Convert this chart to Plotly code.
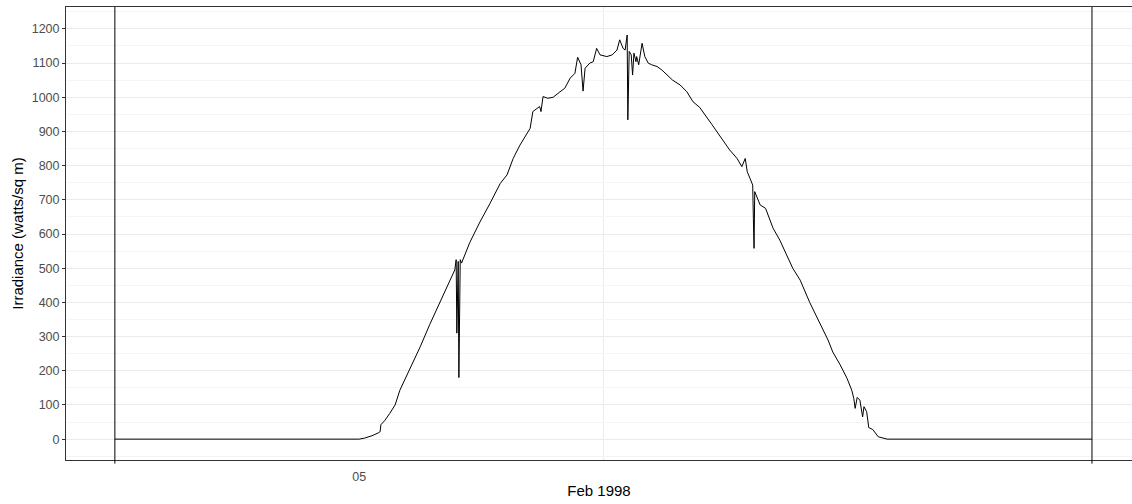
import plotly.graph_objects as go

# Solar irradiance over one day (timestamps, W/m^2)
times = [
    "1998-02-04 18:00", "1998-02-05 00:00", "1998-02-05 00:08", "1998-02-05 00:19",
    "1998-02-05 00:28", "1998-02-05 00:31", "1998-02-05 00:32", "1998-02-05 00:38",
    "1998-02-05 00:45", "1998-02-05 00:53", "1998-02-05 01:00", "1998-02-05 01:15",
    "1998-02-05 01:30", "1998-02-05 01:44", "1998-02-05 01:59", "1998-02-05 02:14",
    "1998-02-05 02:21", "1998-02-05 02:23", "1998-02-05 02:24", "1998-02-05 02:26",
    "1998-02-05 02:27", "1998-02-05 02:29", "1998-02-05 02:31", "1998-02-05 02:43",
    "1998-02-05 02:58", "1998-02-05 03:13", "1998-02-05 03:28", "1998-02-05 03:38",
    "1998-02-05 03:47", "1998-02-05 03:57", "1998-02-05 04:07", "1998-02-05 04:12",
    "1998-02-05 04:16", "1998-02-05 04:26", "1998-02-05 04:28", "1998-02-05 04:31",
    "1998-02-05 04:38", "1998-02-05 04:46", "1998-02-05 04:56", "1998-02-05 05:03",
    "1998-02-05 05:11", "1998-02-05 05:18", "1998-02-05 05:22", "1998-02-05 05:27",
    "1998-02-05 05:30", "1998-02-05 05:33", "1998-02-05 05:40", "1998-02-05 05:45",
    "1998-02-05 05:50", "1998-02-05 05:55", "1998-02-05 06:05", "1998-02-05 06:13",
    "1998-02-05 06:20", "1998-02-05 06:24", "1998-02-05 06:29", "1998-02-05 06:32",
    "1998-02-05 06:35", "1998-02-05 06:36", "1998-02-05 06:38", "1998-02-05 06:41",
    "1998-02-05 06:43", "1998-02-05 06:45", "1998-02-05 06:48", "1998-02-05 06:49",
    "1998-02-05 06:52", "1998-02-05 06:57", "1998-02-05 07:01", "1998-02-05 07:06",
    "1998-02-05 07:11", "1998-02-05 07:19", "1998-02-05 07:26", "1998-02-05 07:34",
    "1998-02-05 07:42", "1998-02-05 07:53", "1998-02-05 08:03", "1998-02-05 08:12",
    "1998-02-05 08:22", "1998-02-05 08:40", "1998-02-05 08:56", "1998-02-05 09:06",
    "1998-02-05 09:17", "1998-02-05 09:24", "1998-02-05 09:29", "1998-02-05 09:32",
    "1998-02-05 09:36", "1998-02-05 09:40", "1998-02-05 09:41", "1998-02-05 09:42",
    "1998-02-05 09:43", "1998-02-05 09:46", "1998-02-05 09:51", "1998-02-05 09:59",
    "1998-02-05 10:05", "1998-02-05 10:10", "1998-02-05 10:20", "1998-02-05 10:30",
    "1998-02-05 10:39", "1998-02-05 10:50", "1998-02-05 11:04", "1998-02-05 11:31",
    "1998-02-05 11:38", "1998-02-05 11:49", "1998-02-05 11:59", "1998-02-05 12:06",
    "1998-02-05 12:09", "1998-02-05 12:11", "1998-02-05 12:14", "1998-02-05 12:18",
    "1998-02-05 12:22", "1998-02-05 12:24", "1998-02-05 12:28", "1998-02-05 12:31",
    "1998-02-05 12:37", "1998-02-05 12:45", "1998-02-05 12:55", "1998-02-05 12:58",
    "1998-02-05 18:00",
]
irradiance = [
    0, 0, 3, 10,
    18, 22, 42, 55,
    75, 100, 143, 205,
    270, 335, 400, 462,
    495, 525, 310, 520,
    180, 525, 515, 575,
    635, 690, 748, 773,
    821, 860, 895, 909,
    958, 973, 958, 1002,
    997, 1000, 1016, 1026,
    1056, 1070, 1117, 1095,
    1018, 1085, 1100, 1104,
    1143, 1124, 1119, 1124,
    1138, 1168, 1143, 1138,
    1182, 934, 1134, 1124,
    1065, 1129, 1104, 1119,
    1095, 1158, 1119, 1100,
    1095, 1090, 1080, 1065,
    1050, 1036, 1016, 987,
    970, 920, 875, 846,
    821, 797, 821, 782,
    763, 743, 646, 558,
    724, 709, 685, 675,
    646, 617, 582, 538,
    500, 465, 400, 290,
    255, 217, 178, 143,
    119, 90, 122, 114,
    65, 95, 80, 34,
    28, 7, 2, 0,
    0,
]

# Axis breaks and reference lines
x_tick_vals = ["1998-02-05 00:00"]
x_tick_text = ["05"]
x_range = ["1998-02-04 16:48", "1998-02-05 18:59"]
day_lines = ["1998-02-04 18:00", "1998-02-05 18:00"]
mid_grid = ["1998-02-05 06:00"]
y_ticks = list(range(0, 1201, 100))

fig = go.Figure()
fig.add_trace(go.Scatter(
    x=times, y=irradiance, mode="lines",
    line=dict(color="black", width=1), showlegend=False,
))

shapes = []
for t in mid_grid:
    shapes.append(dict(type="line", xref="x", yref="paper", x0=t, x1=t, y0=0, y1=1,
                       line=dict(color="#EBEBEB", width=1), layer="below"))
for t in day_lines:
    shapes.append(dict(type="line", xref="x", yref="paper", x0=t, x1=t, y0=-0.008, y1=1,
                       line=dict(color="black", width=1), layer="above"))

fig.update_layout(
    width=1132, height=504,
    margin=dict(l=66, r=0, t=7, b=44),
    paper_bgcolor="white", plot_bgcolor="white",
    font=dict(family="Liberation Sans, Arial, sans-serif", color="#4D4D4D"),
    shapes=shapes,
    xaxis=dict(
        type="date", range=x_range,
        tickvals=x_tick_vals, ticktext=x_tick_text,
        ticks="", showgrid=False, zeroline=False,
        showline=True, linecolor="#333333", linewidth=1, mirror=True,
        tickfont=dict(size=12.5, color="#4D4D4D"),
        ticklabelstandoff=5,
        title=dict(text="Feb 1998", font=dict(size=15, color="black"), standoff=2),
    ),
    yaxis=dict(
        range=[-61, 1264], tickvals=y_ticks,
        ticks="outside", ticklen=3, tickcolor="#333333",
        showgrid=True, gridcolor="#EBEBEB", gridwidth=1,
        minor=dict(dtick=50, tick0=0, showgrid=True, gridcolor="#F5F5F5", ticks=""),
        zeroline=False,
        showline=True, linecolor="#333333", linewidth=1,
        tickfont=dict(size=12.5, color="#4D4D4D"),
        title=dict(text="Irradiance (watts/sq m)", font=dict(size=15, color="black"), standoff=4),
    ),
)

fig.write_html("out.html")
